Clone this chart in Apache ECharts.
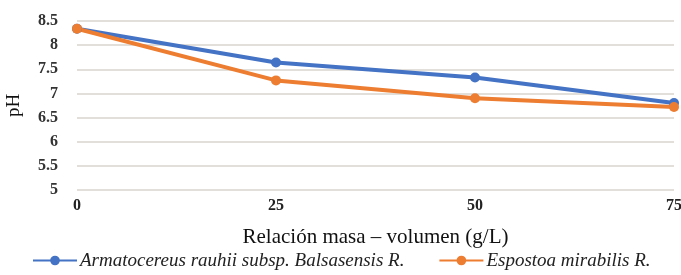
<!DOCTYPE html>
<html>
<head>
<meta charset="utf-8">
<script src="https://cdn.jsdelivr.net/npm/echarts@6/dist/echarts.min.js"></script>
<style>
html, body { margin: 0; padding: 0; background: #fff; }
#chart { width: 681px; height: 275px; }
</style>
</head>
<body>
<div id="chart"></div>
<script>
// datos
var categorias = ['0', '25', '50', '75'];
var armatocereus = [8.34, 7.64, 7.33, 6.80];
var espostoa = [8.34, 7.27, 6.90, 6.72];
var nombres = ['Armatocereus rauhii subsp. Balsasensis R.', 'Espostoa mirabilis R.'];

var myChart = echarts.init(document.getElementById('chart'));
var fuente = 'Liberation Serif';
option = {
	animation : false,
	textStyle : { fontFamily : fuente },
	grid : { left : 77, right : 7, top : 21, bottom : 85, outerBoundsMode : 'none' },
	legend : {
		top : 251,
		left : 32,
		padding : 0,
		itemWidth : 44,
		itemHeight : 12,
		itemGap : 34,
		data : nombres,
		textStyle : { fontFamily : fuente, fontStyle : 'italic', fontSize : 19, color : '#222', padding : [0, 0, 0, -2] }
	},
	xAxis : {
		type : 'category',
		boundaryGap : false,
		data : categorias,
		name : 'Relación masa – volumen (g/L)',
		nameLocation : 'middle',
		nameGap : 37,
		nameTextStyle : { fontFamily : fuente, fontSize : 21, color : '#111' },
		axisLine : { show : false },
		axisTick : { show : false },
		axisLabel : { fontFamily : fuente, fontSize : 16, fontWeight : 'bold', color : '#222', margin : 8 }
	},
	yAxis : {
		type : 'value',
		min : 5,
		max : 8.5,
		interval : 0.5,
		name : 'pH',
		nameLocation : 'middle',
		nameGap : 53,
		nameRotate : 90,
		nameTextStyle : { fontFamily : fuente, fontSize : 19, color : '#111' },
		axisLine : { show : false },
		axisTick : { show : false },
		axisLabel : { fontFamily : fuente, fontSize : 16, fontWeight : 'bold', color : '#333', margin : 19 },
		splitLine : { lineStyle : { color : '#d9d3cd', width : 1.5 } }
	},
	series : [ {
		name : nombres[0],
		type : 'line',
		data : armatocereus,
		symbol : 'circle',
		symbolSize : 10,
		color : '#4472C4',
		lineStyle : { width : 4 }
	}, {
		name : nombres[1],
		type : 'line',
		data : espostoa,
		symbol : 'circle',
		symbolSize : 10,
		color : '#ED7D31',
		lineStyle : { width : 4 }
	} ]
};
myChart.setOption(option);
</script>
</body>
</html>
